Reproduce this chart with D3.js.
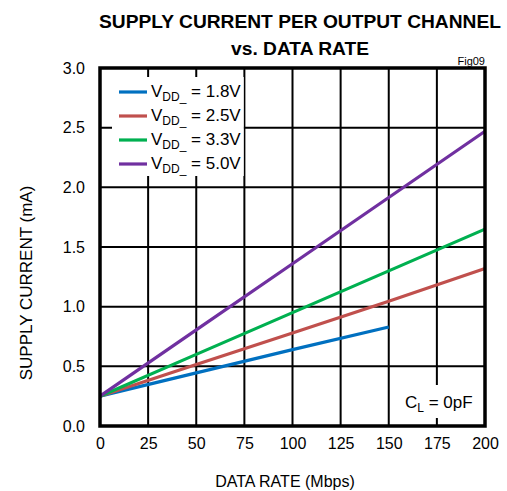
<!DOCTYPE html>
<html><head><meta charset="utf-8">
<script src="https://cdn.jsdelivr.net/npm/d3@7"></script>
<style>
body{margin:0;background:#fff;}
svg{display:block;font-family:"Liberation Sans",Arial,sans-serif;}
</style></head>
<body><svg id="c" width="507" height="491"></svg>
<script>
const dataRate = [0, 50, 100, 150, 200];
const vdd18 = [0.25, 0.445, 0.64, 0.83];
const vdd25 = [0.25, 0.515, 0.78, 1.045, 1.32];
const vdd33 = [0.25, 0.60, 0.95, 1.30, 1.65];
const vdd50 = [0.25, 0.805, 1.36, 1.915, 2.47];
const seriesNames = ["= 1.8V", "= 2.5V", "= 3.3V", "= 5.0V"];
const seriesColors = ["#0070C0", "#C0504D", "#00B050", "#7030A0"];
const xTicks = [0, 25, 50, 75, 100, 125, 150, 175, 200];
const yTicks = [0, 0.5, 1.0, 1.5, 2.0, 2.5, 3.0];

const svg = d3.select("#c");
const x = d3.scaleLinear().domain([0, 200]).range([100, 485]);
const y = d3.scaleLinear().domain([0, 3]).range([426, 68]);

// grid
const g = svg.append("g");
g.selectAll("line.v").data(xTicks.slice(1, -1)).join("line")
  .attr("x1", d => x(d)).attr("x2", d => x(d)).attr("y1", y(0)).attr("y2", y(3))
  .attr("stroke", "#000").attr("stroke-width", 2);
g.selectAll("line.h").data(yTicks.slice(1, -1)).join("line")
  .attr("y1", d => y(d)).attr("y2", d => y(d)).attr("x1", x(0)).attr("x2", x(200))
  .attr("stroke", "#000").attr("stroke-width", 2);

// legend / label backgrounds (cover grid, leave ticks)
svg.append("rect").attr("x", 112).attr("y", 77).attr("width", x(75) - 0.6 - 112).attr("height", 99).attr("fill", "#fff");
svg.append("rect").attr("x", 402).attr("y", 385).attr("width", 54).attr("height", 33).attr("fill", "#fff");

// axes with d3 (labels only)
const xAxis = d3.axisBottom(x).tickValues(xTicks).tickSize(0).tickPadding(12).tickFormat(d3.format("d"));
const xa = svg.append("g").attr("transform", `translate(0,${y(0)})`).call(xAxis);
xa.select(".domain").remove();
xa.selectAll("text").attr("font-size", 16).attr("font-family", "Liberation Sans, Arial, sans-serif").attr("fill", "#000");

const yAxis = d3.axisLeft(y).tickValues(yTicks).tickSize(0).tickPadding(15).tickFormat(d3.format(".1f"));
const ya = svg.append("g").attr("transform", `translate(${x(0)},0)`).call(yAxis);
ya.select(".domain").remove();
ya.selectAll("text").attr("font-size", 16).attr("font-family", "Liberation Sans, Arial, sans-serif").attr("fill", "#000");

// series
const allSeries = [vdd18, vdd25, vdd33, vdd50];
const line = d3.line().x((d, i) => x(dataRate[i])).y(d => y(d));
allSeries.forEach((s, i) => {
  svg.append("path").attr("d", line(s)).attr("fill", "none")
    .attr("stroke", seriesColors[i]).attr("stroke-width", 3.2).attr("stroke-linecap", "butt");
});

// frame
svg.append("rect").attr("x", x(0)).attr("y", y(3)).attr("width", x(200) - x(0)).attr("height", y(0) - y(3))
  .attr("fill", "none").attr("stroke", "#000").attr("stroke-width", 3.5);

// legend
const leg = svg.append("g");
seriesNames.forEach((n, i) => {
  const ly = 92 + i * 24;
  leg.append("line").attr("x1", 119).attr("x2", 147).attr("y1", ly).attr("y2", ly)
    .attr("stroke", seriesColors[i]).attr("stroke-width", 3.2);
  const t = leg.append("text").attr("x", 151).attr("y", ly + 5).attr("font-size", 17).attr("fill", "#000");
  t.append("tspan").text("V");
  t.append("tspan").attr("font-size", 12).attr("dy", 4).text("DD_");
  t.append("tspan").attr("dy", -4).text("\u00a0" + n);
});

// C_L label
const cl = svg.append("text").attr("x", 405).attr("y", 408).attr("font-size", 17).attr("fill", "#000");
cl.append("tspan").text("C");
cl.append("tspan").attr("font-size", 12).attr("dy", 4).text("L");
cl.append("tspan").attr("dy", -4).text("\u00a0= 0pF");

// titles
svg.append("text").attr("x", 300).attr("y", 28).attr("text-anchor", "middle")
  .attr("font-size", 19.2).attr("font-weight", "bold")
  .text("SUPPLY CURRENT PER OUTPUT CHANNEL");
svg.append("text").attr("x", 300).attr("y", 55).attr("text-anchor", "middle")
  .attr("font-size", 19.2).attr("font-weight", "bold")
  .text("vs. DATA RATE");
svg.append("text").attr("x", 485).attr("y", 65).attr("text-anchor", "end").attr("font-size", 11).text("Fig09");

svg.append("text").attr("x", 285).attr("y", 487).attr("text-anchor", "middle").attr("font-size", 16).text("DATA RATE (Mbps)");
svg.append("text").attr("transform", "translate(32,283) rotate(-90)").attr("text-anchor", "middle")
  .attr("font-size", 17).text("SUPPLY CURRENT (mA)");
</script></body></html>
